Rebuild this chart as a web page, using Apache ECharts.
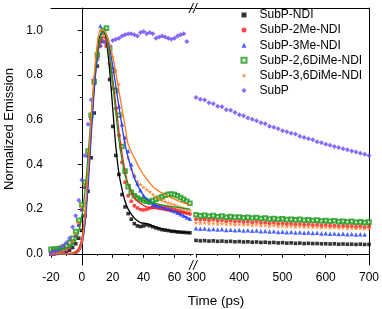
<!DOCTYPE html>
<html><head><meta charset="utf-8">
<script src="https://cdn.jsdelivr.net/npm/echarts@6/dist/echarts.min.js"></script>
<style>html,body{margin:0;padding:0;background:#fff}#c{width:382px;height:309px}</style>
</head><body><div id="c"></div>
<script>
const names = ['SubP-NDI','SubP-2Me-NDI','SubP-3Me-NDI','SubP-2,6DiMe-NDI','SubP-3,6DiMe-NDI','SubP'];
const tLeft = [-20,-18,-16,-14,-12,-10,-8,-6,-4,-2,0,2,4,6,8,10,12,14,16,18,20,22,24,26,28,30,32,34,36,38,40,42,44,46,48,50,52,54,56,58,60,62,64,66,68,70];
const blackL = [0.000,0.001,0.002,0.004,0.006,0.010,0.016,0.028,0.045,0.070,0.105,0.170,0.280,0.430,0.630,0.840,0.950,0.995,0.930,0.780,0.570,0.440,0.355,0.265,0.210,0.180,0.155,0.135,0.125,0.122,0.125,0.130,0.126,0.121,0.116,0.112,0.108,0.106,0.104,0.101,0.100,0.098,0.097,0.096,0.095,0.094];
const redL = [0.000,0.002,0.004,0.007,0.011,0.018,0.030,0.050,0.080,0.130,0.200,0.300,0.440,0.600,0.760,0.880,0.930,0.950,0.930,0.850,0.740,0.650,0.530,0.410,0.320,0.260,0.235,0.215,0.205,0.198,0.196,0.200,0.204,0.210,0.214,0.214,0.212,0.210,0.206,0.202,0.198,0.195,0.190,0.186,0.182,0.178];
const blueL = [0.000,0.002,0.005,0.009,0.014,0.022,0.035,0.055,0.085,0.130,0.200,0.300,0.440,0.610,0.770,0.900,1.020,0.990,0.950,0.900,0.830,0.740,0.660,0.580,0.520,0.460,0.400,0.350,0.315,0.285,0.260,0.245,0.230,0.220,0.213,0.208,0.205,0.203,0.200,0.195,0.190,0.184,0.177,0.170,0.163,0.157];
const greenL = [0.020,0.020,0.022,0.025,0.030,0.036,0.050,0.070,0.100,0.150,0.220,0.320,0.460,0.620,0.770,0.890,0.960,1.000,1.010,0.920,0.820,0.730,0.620,0.480,0.370,0.300,0.275,0.260,0.250,0.243,0.238,0.235,0.234,0.238,0.244,0.250,0.256,0.262,0.266,0.268,0.265,0.260,0.252,0.244,0.235,0.226];
const orangeL = [0.000,0.002,0.004,0.008,0.013,0.020,0.032,0.055,0.090,0.140,0.210,0.310,0.450,0.620,0.790,0.920,1.000,0.980,0.930,0.900,0.880,0.820,0.760,0.620,0.500,0.430,0.380,0.350,0.325,0.310,0.298,0.288,0.278,0.266,0.256,0.248,0.240,0.234,0.228,0.224,0.220,0.214,0.208,0.203,0.199,0.195];
const purpleL = [0.005,0.010,0.015,0.025,0.035,0.050,0.070,0.120,0.170,0.240,0.330,0.440,0.580,0.690,0.780,0.870,0.930,0.950,0.940,0.930,0.955,0.960,0.965,0.975,0.980,0.985,0.985,0.980,0.975,0.990,0.995,0.985,0.990,0.985,0.965,0.970,0.975,0.970,0.965,0.960,0.965,0.975,0.980,0.985,0.950,null];

const tFit = [-20,-8,-4,-2,0,2,4,6,8,10,12,14,16,18,20,22,24,26,28,30,34,38,42,46,50,55,60,65,70];
const blackFit = [0,0,0.005,0.015,0.05,0.15,0.33,0.55,0.76,0.9,0.98,1.0,0.95,0.82,0.65,0.48,0.36,0.29,0.235,0.2,0.16,0.14,0.135,0.125,0.115,0.107,0.101,0.097,0.094];
const redFit = [0,0.002,0.01,0.025,0.07,0.18,0.36,0.57,0.75,0.88,0.95,0.97,0.95,0.88,0.78,0.67,0.55,0.45,0.37,0.31,0.25,0.225,0.21,0.205,0.2,0.195,0.19,0.185,0.18];
const blueFit = [0,0,0.002,0.01,0.04,0.13,0.3,0.52,0.73,0.88,0.97,1.0,0.98,0.92,0.84,0.75,0.66,0.57,0.49,0.43,0.34,0.28,0.245,0.225,0.212,0.2,0.19,0.175,0.155];
const greenFit = [0.02,0.03,0.06,0.1,0.17,0.28,0.44,0.62,0.78,0.9,0.97,1.0,0.97,0.88,0.76,0.63,0.51,0.42,0.35,0.31,0.265,0.245,0.235,0.228,0.222,0.215,0.21,0.205,0.2];
const orangeFit = [0,0,0.003,0.012,0.05,0.17,0.37,0.6,0.8,0.94,1.0,1.0,0.98,0.94,0.88,0.81,0.73,0.65,0.57,0.49,0.43,0.375,0.335,0.3,0.28,0.26,0.245,0.23,0.218];

const tRight = [300,310,320,330,340,350,360,370,380,390,400,410,420,430,440,450,460,470,480,490,500,510,520,530,540,550,560,570,580,590,600,610,620,630,640,650,660,670,680,690,700];
const blackR = [0.060,0.058,0.059,0.057,0.058,0.056,0.057,0.055,0.056,0.054,0.055,0.053,0.054,0.052,0.053,0.051,0.052,0.050,0.051,0.049,0.050,0.048,0.049,0.047,0.048,0.046,0.047,0.046,0.046,0.045,0.045,0.044,0.045,0.043,0.044,0.043,0.043,0.042,0.043,0.042,0.042];
const redR = [0.155,0.152,0.154,0.150,0.152,0.148,0.150,0.146,0.148,0.144,0.146,0.142,0.144,0.140,0.142,0.139,0.140,0.137,0.139,0.135,0.137,0.134,0.135,0.132,0.134,0.130,0.132,0.129,0.130,0.127,0.129,0.126,0.127,0.124,0.126,0.123,0.124,0.121,0.123,0.120,0.121];
const blueR = [0.114,0.112,0.113,0.110,0.111,0.109,0.110,0.107,0.108,0.106,0.107,0.104,0.105,0.103,0.104,0.101,0.102,0.100,0.101,0.098,0.099,0.097,0.098,0.095,0.096,0.094,0.095,0.093,0.094,0.091,0.092,0.090,0.091,0.089,0.090,0.088,0.089,0.087,0.088,0.086,null];
const greenR = [0.175,0.170,0.172,0.168,0.171,0.166,0.169,0.164,0.167,0.163,0.165,0.161,0.163,0.160,0.162,0.158,0.160,0.156,0.158,0.155,0.157,0.153,0.155,0.152,0.154,0.150,0.152,0.149,0.151,0.147,0.149,0.146,0.148,0.144,0.146,0.143,0.145,0.141,0.143,0.140,0.142];
const orangeR = [0.140,0.138,0.139,0.136,0.137,0.134,0.136,0.133,0.134,0.131,0.133,0.130,0.131,0.128,0.130,0.127,0.128,0.125,0.127,0.124,0.125,0.123,0.124,0.121,0.123,0.120,0.121,0.119,0.120,0.118,0.119,0.117,0.118,0.116,0.117,0.115,0.116,0.114,0.115,0.113,0.114];
const purpleR = [0.700,0.692,0.688,0.676,0.672,0.660,0.658,0.645,0.642,0.632,0.622,0.618,0.608,0.602,0.596,0.586,0.582,0.571,0.566,0.560,0.551,0.546,0.540,0.536,0.526,0.521,0.515,0.511,0.501,0.497,0.490,0.486,0.480,0.476,0.470,0.466,0.460,0.456,0.450,0.446,0.440];

const xTicksL = [-20,0,20,40,60];
const xMinorL = [-10,10,30,50,70];
const yTicks = [0,0.2,0.4,0.6,0.8,1.0];
const yMinor = [0.1,0.3,0.5,0.7,0.9];

const colors = ['#000000','#ff1a1a','#1f3dff','#1c9a1c','#ff7a1a','#6a46f5'];
const symbols = ['rect','circle','triangle','emptyRect','path://M50,0 L61,35 L98,35 L68,57 L79,91 L50,70 L21,91 L32,57 L2,35 L39,35 Z','diamond'];
const sizes = [3.6,4,4.5,3.6,5,5];
const leftData = [blackL,redL,blueL,greenL,orangeL,purpleL];
const rightData = [blackR,redR,blueR,greenR,orangeR,purpleR];
const fits = [blackFit,redFit,blueFit,greenFit,orangeFit];

const zip = (t,v) => t.map((x,i)=>[x,v[i]]);
const FONT = 'Liberation Sans, Arial, sans-serif';
const axLine = {show:true, lineStyle:{color:'#000', width:1}};

const series = [];
for (let i=0;i<6;i++){
  const common = {name:names[i], type:'scatter', symbol:symbols[i], symbolSize:sizes[i],
    itemStyle: i===3 ? {color:colors[i], borderColor:colors[i], borderWidth:0.9} : {color:colors[i]},
    animation:false, silent:true};
  series.push(Object.assign({}, common, {xAxisIndex:0, yAxisIndex:0, data:zip(tLeft,leftData[i])}));
  series.push(Object.assign({}, common, {xAxisIndex:3, yAxisIndex:2, data:zip(tRight,rightData[i])}));
}
for (let i=0;i<5;i++){
  series.push({name:names[i]+' fit', type:'line', xAxisIndex:0, yAxisIndex:0, data:zip(tFit,fits[i]),
    showSymbol:false, smooth:0.3, lineStyle:{color:colors[i], width:1.3}, animation:false, silent:true});
}

const chart = echarts.init(document.getElementById('c'), null, {renderer:'canvas'});
chart.setOption({
  backgroundColor:'#fff',
  animation:false,
  title:{text:'Time (ps)', left:211, top:289, textAlign:'center',
    textStyle:{fontFamily:FONT, fontSize:13.5, fontWeight:'normal', color:'#000'}},
  legend:{data:names, orient:'vertical', left:240.5, top:8, padding:0, itemWidth:5, itemHeight:5, itemGap:1.1,
    textStyle:{fontFamily:FONT, fontSize:12, color:'#000', lineHeight:14, padding:[0,0,0,8]}},
  grid:[{left:51, right:189, top:8, bottom:44},{left:196, right:11, top:8, bottom:44}],
  xAxis:[
    {gridIndex:0, type:'value', min:-20, max:72, position:'bottom', axisLine:axLine,
      axisTick:{show:true, customValues:xTicksL, length:4, inside:false, lineStyle:{color:'#000'}},
      axisLabel:{customValues:xTicksL, fontFamily:FONT, fontSize:12, color:'#000', margin:7},
      splitLine:{show:false}},
    {gridIndex:0, type:'value', min:-20, max:72, position:'bottom', axisLine:{show:false},
      axisTick:{show:true, customValues:xMinorL, length:2, lineStyle:{color:'#000'}},
      axisLabel:{show:false}, splitLine:{show:false}},
    {gridIndex:0, type:'value', min:-20, max:72, position:'top', axisLine:axLine,
      axisTick:{show:false}, axisLabel:{show:false}, splitLine:{show:false}},
    {gridIndex:1, type:'value', min:300, max:700, interval:100, position:'bottom', axisLine:axLine,
      axisTick:{show:true, length:4, lineStyle:{color:'#000'}},
      minorTick:{show:true, splitNumber:2, length:2, lineStyle:{color:'#000'}},
      axisLabel:{fontFamily:FONT, fontSize:12, color:'#000', margin:7},
      splitLine:{show:false}},
    {gridIndex:1, type:'value', min:300, max:700, position:'top', axisLine:axLine,
      axisTick:{show:false}, axisLabel:{show:false}, splitLine:{show:false}}
  ],
  yAxis:[
    {gridIndex:0, type:'value', min:-0.05, max:1.1, position:'left', axisLine:axLine,
      axisTick:{show:true, customValues:yTicks, length:4, lineStyle:{color:'#000'}},
      axisLabel:{customValues:yTicks, formatter:v=>v.toFixed(1), fontFamily:FONT, fontSize:12, color:'#000', margin:8},
      splitLine:{show:false}},
    {gridIndex:0, type:'value', min:-0.05, max:1.1, position:'left', axisLine:{show:false},
      axisTick:{show:true, customValues:yMinor, length:2, lineStyle:{color:'#000'}},
      axisLabel:{show:false}, splitLine:{show:false}},
    {gridIndex:1, type:'value', min:-0.05, max:1.1, position:'right', axisLine:axLine,
      axisTick:{show:false}, axisLabel:{show:false}, splitLine:{show:false}}
  ],
  graphic:[
    {type:'text', x:9, y:129, rotation:Math.PI/2, silent:true,
      style:{text:'Normalized Emission', font:'13px Liberation Sans, Arial, sans-serif', fill:'#000', textAlign:'center', textVerticalAlign:'middle'}},
    {type:'line', silent:true, shape:{x1:189,y1:13,x2:193.5,y2:3}, style:{stroke:'#000', lineWidth:1}},
    {type:'line', silent:true, shape:{x1:193,y1:13,x2:197.5,y2:3}, style:{stroke:'#000', lineWidth:1}},
    {type:'line', silent:true, shape:{x1:189,y1:270,x2:193.5,y2:260}, style:{stroke:'#000', lineWidth:1}},
    {type:'line', silent:true, shape:{x1:193,y1:270,x2:197.5,y2:260}, style:{stroke:'#000', lineWidth:1}}
  ],
  series: series
});
</script></body></html>
